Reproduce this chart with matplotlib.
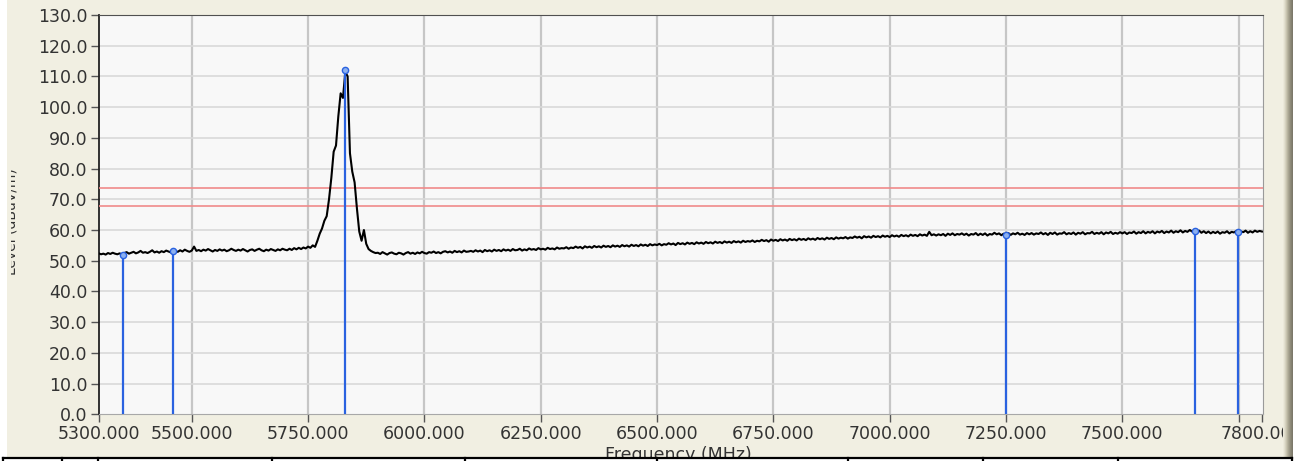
import numpy as np
import matplotlib
matplotlib.use("Agg")
import matplotlib.pyplot as plt
from matplotlib.patches import Rectangle

# spectrum trace, 5 MHz steps from 5300 to 7800 MHz (dBuV/m)
level_dbuv = [
    52.4, 52.1, 52.3, 52.0, 52.5, 52.2, 52.6, 52.3, 52.1, 52.4,
    52.0, 52.5, 52.8, 52.3, 52.6, 52.9, 52.4, 52.7, 53.2, 52.6,
    52.8, 52.5, 52.9, 53.4, 52.7, 53.0, 52.6, 53.1, 52.8, 53.3,
    53.0, 52.7, 53.5, 53.1, 52.9, 53.4, 53.0, 53.6, 53.2, 52.9,
    53.3, 54.6, 53.2, 53.5, 53.1, 53.6, 53.3, 53.8, 53.4, 53.0,
    53.5, 53.2, 53.7, 53.3, 53.6, 53.1, 53.4, 53.9, 53.5, 53.2,
    53.6, 53.3, 53.8, 53.4, 53.0, 53.5, 53.7, 53.2, 53.6, 53.9,
    53.4, 53.1, 53.6, 53.3, 53.8, 53.5, 53.2, 53.7, 53.4, 53.9,
    53.6, 53.4, 53.9, 53.5, 54.1, 53.7, 54.2, 53.8, 54.3, 54.0,
    54.6, 54.2, 55.0, 54.5, 56.5, 58.8, 60.5, 63.0, 64.5, 70.0,
    77.0, 85.5, 87.5, 97.0, 104.5, 103.0, 111.5, 110.0, 85.0, 79.0,
    75.5, 67.0, 59.5, 56.5, 60.0, 55.5, 53.8, 53.2, 52.8, 52.5,
    52.6, 52.2, 52.8, 52.4, 52.0, 52.5, 52.7, 52.3, 52.1, 52.6,
    52.4, 52.0, 52.5, 52.8, 52.3, 52.6, 52.2, 52.7, 52.4, 52.9,
    52.5, 52.3, 52.8, 52.6, 53.0, 52.5, 52.8, 52.4, 52.9, 53.1,
    52.7, 53.0, 52.6, 53.2, 52.8, 53.1, 52.7, 53.3, 52.9, 53.0,
    53.2, 52.9, 53.4, 53.0, 53.3, 52.8, 53.5, 53.1, 53.4, 53.0,
    53.6, 53.2, 53.5, 53.1, 53.7, 53.3, 53.6, 53.2, 53.8, 53.4,
    53.5, 53.9, 53.3, 53.7, 53.4, 54.0, 53.6, 53.8, 53.5, 54.1,
    53.7, 53.9, 53.6, 54.2, 53.8, 54.0, 53.7, 54.3, 53.9, 54.1,
    54.0, 54.4, 53.9, 54.3, 54.1, 54.6, 54.2, 54.5, 54.0, 54.7,
    54.3, 54.6, 54.2, 54.8, 54.4, 54.7, 54.3, 54.9, 54.5, 54.8,
    54.4, 55.0, 54.6, 54.9, 54.5, 55.1, 54.7, 55.0, 54.6, 55.2,
    54.8, 55.1, 54.7, 55.3, 54.9, 55.2, 54.8, 55.4, 55.0, 55.3,
    55.1, 55.5, 55.0, 55.4, 55.2, 55.7, 55.3, 55.6, 55.1, 55.8,
    55.4, 55.7, 55.3, 55.9, 55.5, 55.8, 55.4, 56.0, 55.6, 55.9,
    55.5, 56.1, 55.7, 56.0, 55.6, 56.2, 55.8, 56.1, 55.7, 56.3,
    55.9, 56.2, 55.8, 56.4, 56.0, 56.3, 55.9, 56.5, 56.1, 56.4,
    56.2, 56.6, 56.1, 56.5, 56.3, 56.8, 56.4, 56.7, 56.2, 56.9,
    56.5, 56.8, 56.4, 57.0, 56.6, 56.9, 56.5, 57.1, 56.7, 57.0,
    56.6, 57.2, 56.8, 57.1, 56.7, 57.3, 56.9, 57.2, 56.8, 57.4,
    57.0, 57.3, 56.9, 57.5, 57.1, 57.4, 57.0, 57.6, 57.2, 57.5,
    57.3, 57.7, 57.2, 57.6, 57.4, 57.9, 57.5, 57.8, 57.3, 58.0,
    57.6, 57.9, 57.5, 58.1, 57.7, 58.0, 57.6, 58.2, 57.8, 58.1,
    57.7, 58.3, 57.9, 58.2, 57.8, 58.4, 58.0, 58.3, 57.9, 58.5,
    58.1, 58.4, 58.0, 58.6, 58.2, 58.5, 58.1, 59.4, 58.3, 58.6,
    58.2, 58.6, 58.3, 58.7, 58.1, 58.8, 58.4, 58.9, 58.3, 58.7,
    58.5, 58.9, 58.4, 58.8, 58.2, 58.7, 58.5, 59.0, 58.3, 58.8,
    58.4, 58.9, 58.2, 58.7, 58.5, 59.1, 58.6, 58.9, 58.3, 58.8,
    58.5, 59.0, 58.4, 58.9, 58.6, 59.1, 58.5, 58.8, 58.4, 59.0,
    58.6, 59.0, 58.5, 58.9, 58.7, 59.2, 58.6, 59.0, 58.4, 59.1,
    58.7, 59.2, 58.5, 58.9, 58.8, 59.3, 58.6, 59.0, 58.7, 59.2,
    58.5, 59.1, 58.8, 59.3, 58.6, 59.0, 58.9, 59.4, 58.7, 59.1,
    58.8, 59.3, 58.6, 59.2, 58.9, 59.4, 58.7, 59.1, 58.8, 59.3,
    58.9, 59.3, 58.7, 59.2, 59.0, 59.5, 58.8, 59.3, 59.0, 59.6,
    58.9, 59.4, 59.1, 59.6, 58.9, 59.5, 59.2, 59.7, 59.0, 59.5,
    59.2, 59.8, 59.1, 59.6, 59.3, 59.9, 59.2, 59.7, 59.4, 60.0,
    59.5, 59.9, 59.3, 59.8, 59.1, 59.6, 59.0, 59.5, 58.9, 59.4,
    59.0, 59.5, 58.8, 59.3, 59.1, 59.6, 58.9, 59.4, 59.2, 59.7,
    59.0, 59.5, 59.3, 59.8, 59.1, 59.6, 59.2, 59.8, 59.4, 59.7, 59.5,
]
freq_mhz = np.linspace(5300, 7800, len(level_dbuv))

# peak markers
marker_freq = [5351.6, 5459.8, 5829.0, 7249.7, 7657.0, 7749.5]
marker_level = [52.0, 53.2, 112.0, 58.4, 59.8, 59.3]

# limit lines
limit_levels = [73.8, 67.9]

xtick_vals = [5300, 5500, 5750, 6000, 6250, 6500, 6750, 7000, 7250, 7500, 7750, 7800]
xtick_labels = ["5300.000", "5500.000", "5750.000", "6000.000", "6250.000", "6500.000",
                "6750.000", "7000.000", "7250.000", "7500.000", "", "7800.000"]
ytick_vals = np.arange(0, 131, 10)

W, H = 1301, 461
BEIGE = "#F1EFE2"

fig = plt.figure(figsize=(W / 100, H / 100), dpi=100)
fig.patch.set_facecolor("white")

# widget background
fig.patches.append(Rectangle((7 / W, 4 / H), (1283 - 7) / W, (H - 4) / H,
                             transform=fig.transFigure, facecolor=BEIGE,
                             edgecolor="none", zorder=-10))

ax = fig.add_axes([98.7 / W, (H - 414.3) / H, (1263.3 - 98.7) / W, (414.3 - 15) / H])
ax.set_facecolor("#F8F8F8")

ax.plot(freq_mhz, level_dbuv, color="black", lw=1.5, zorder=4)
for lv in limit_levels:
    ax.axhline(lv, color="#F08A8A", lw=1.2, zorder=3)
ax.vlines(marker_freq, 0, marker_level, color="#2A62E0", lw=1.6, zorder=5)
ax.plot(marker_freq, marker_level, "o", ms=4.5, mfc="#8CB0F0", mec="#2A62E0",
        mew=1.0, zorder=6)

ax.set_xlim(5300, 7803)
ax.set_ylim(0, 130)

for gx in range(5500, 7751, 250):
    ax.axvline(gx, color="#C6C6C6", lw=1.6, zorder=1)
for gy in ytick_vals[1:-1]:
    ax.axhline(gy, color="#D9D9D9", lw=1.2, zorder=1)

ax.set_xticks(xtick_vals)
ax.set_xticklabels(xtick_labels)
ax.set_yticks(ytick_vals)
ax.set_yticklabels([f"{v:.1f}" for v in ytick_vals])
ax.tick_params(direction="out", length=6, width=1, color="#555555",
               labelsize=12.5, labelcolor="#333333", pad=2)

ax.spines["left"].set_color("#222222")
ax.spines["left"].set_linewidth(1.3)
ax.spines["top"].set_color("#505050")
ax.spines["right"].set_color("#9A9A9A")
ax.spines["bottom"].set_color("#A8A8A8")

# axis titles (partly cut off, as in the panel)
fig.text(12 / W, 1 - 222 / H, "Level (dBuV/m)", rotation=90, ha="center",
         va="center", fontsize=10, color="#333333", zorder=2)
fig.patches.append(Rectangle((0, 0), 10.5 / W, 1, transform=fig.transFigure,
                             facecolor=BEIGE, edgecolor="none", zorder=8))
fig.patches.append(Rectangle((0, 0), 7 / W, 1, transform=fig.transFigure,
                             facecolor="white", edgecolor="none", zorder=9))
fig.text(678 / W, 1 - 455 / H, "Frequency (MHz)", ha="center", va="center",
         fontsize=12.5, color="#333333", zorder=2)

# right edge shadow
shades = ["#ECE9DA", "#E2DFCF", "#D6D2C0", "#C8C4B0", "#B8B4A0", "#A9A592",
          "#9C9886", "#8F8B7A", "#858171", "#7C786A"]
for i, c in enumerate(shades):
    fig.patches.append(Rectangle(((1283 + i) / W, 4 / H), 1 / W, (H - 4) / H,
                                 transform=fig.transFigure, facecolor=c,
                                 edgecolor="none", zorder=8))
fig.patches.append(Rectangle((1293 / W, 0), 8 / W, 1, transform=fig.transFigure,
                             facecolor="white", edgecolor="none", zorder=9))

# table strip at bottom
fig.patches.append(Rectangle((0, 0), 1, 4 / H, transform=fig.transFigure,
                             facecolor="white", edgecolor="none", zorder=9))
fig.lines.append(plt.Line2D([3 / W, 1292 / W], [(H - 457.5) / H] * 2,
                            transform=fig.transFigure, color="black", lw=1.6, zorder=10))
for sx in [3, 62, 98, 272, 465, 657, 848, 983, 1118, 1292]:
    fig.lines.append(plt.Line2D([sx / W] * 2, [0, (H - 457.5) / H],
                                transform=fig.transFigure, color="black", lw=1.6, zorder=10))

fig.savefig("out.png", dpi=100, facecolor=fig.get_facecolor())
